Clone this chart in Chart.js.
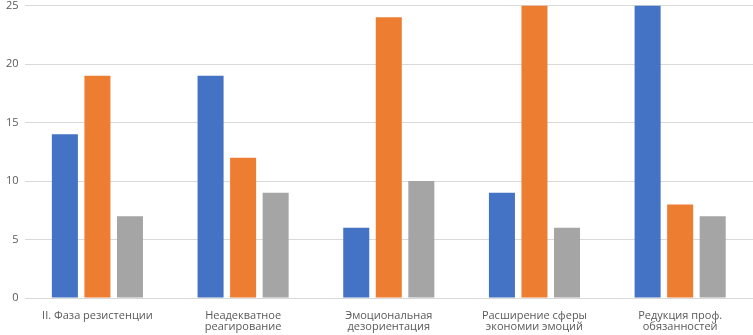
<!DOCTYPE html>
<html>
<head>
<meta charset="utf-8">
<script src="https://cdn.jsdelivr.net/npm/chart.js@4"></script>
<style>
  html, body { margin: 0; padding: 0; background: #fff; overflow: hidden; }
  #outer { width: 753px; height: 335px; position: relative; overflow: hidden; }
  #wrap { width: 753px; height: 343px; position: absolute; left: 0; top: -7px; }
</style>
</head>
<body>
<div id="outer"><div id="wrap"><canvas id="myChart"></canvas></div></div>
<script>
const categories = [
  ['II. Фаза резистенции'],
  ['Неадекватное', 'реагирование'],
  ['Эмоциональная', 'дезориентация'],
  ['Расширение сферы', 'экономии эмоций'],
  ['Редукция проф.', 'обязанностей']
];
const series1 = [14, 19, 6, 9, 25];
const series2 = [19, 12, 24, 25, 8];
const series3 = [7, 9, 10, 6, 7];
const yTicks = [0, 5, 10, 15, 20, 25];

const ctx = document.getElementById('myChart').getContext('2d');
const chart = new Chart(ctx, {
  type: 'bar',
  data: {
    labels: categories,
    datasets: [
      { label: 'Ряд 1', data: series1, backgroundColor: '#4472C4' },
      { label: 'Ряд 2', data: series2, backgroundColor: '#ED7D31' },
      { label: 'Ряд 3', data: series3, backgroundColor: '#A5A5A5' }
    ]
  },
  options: {
    responsive: true,
    maintainAspectRatio: false,
    animation: false,
    layout: { padding: { top: 0, right: 0, bottom: 0, left: 0 } },
    datasets: {
      bar: { categoryPercentage: 0.67, barPercentage: 0.8 }
    },
    plugins: {
      legend: { display: false },
      tooltip: { enabled: false }
    },
    scales: {
      x: {
        grid: { display: false },
        border: { display: false },
        ticks: {
          color: '#595959',
          font: { family: 'Open Sans', size: 11, lineHeight: 1.0 },
          maxRotation: 0,
          autoSkip: false,
          padding: 4
        }
      },
      y: {
        min: 0,
        max: 25,
        afterBuildTicks: (axis) => { axis.ticks = yTicks.map(v => ({ value: v })); },
        grid: { color: '#D9D9D9', drawTicks: false },
        border: { display: false },
        ticks: {
          color: '#595959',
          font: { family: 'Open Sans', size: 11 },
          padding: 6
        }
      }
    }
  }
});
</script>
</body>
</html>
